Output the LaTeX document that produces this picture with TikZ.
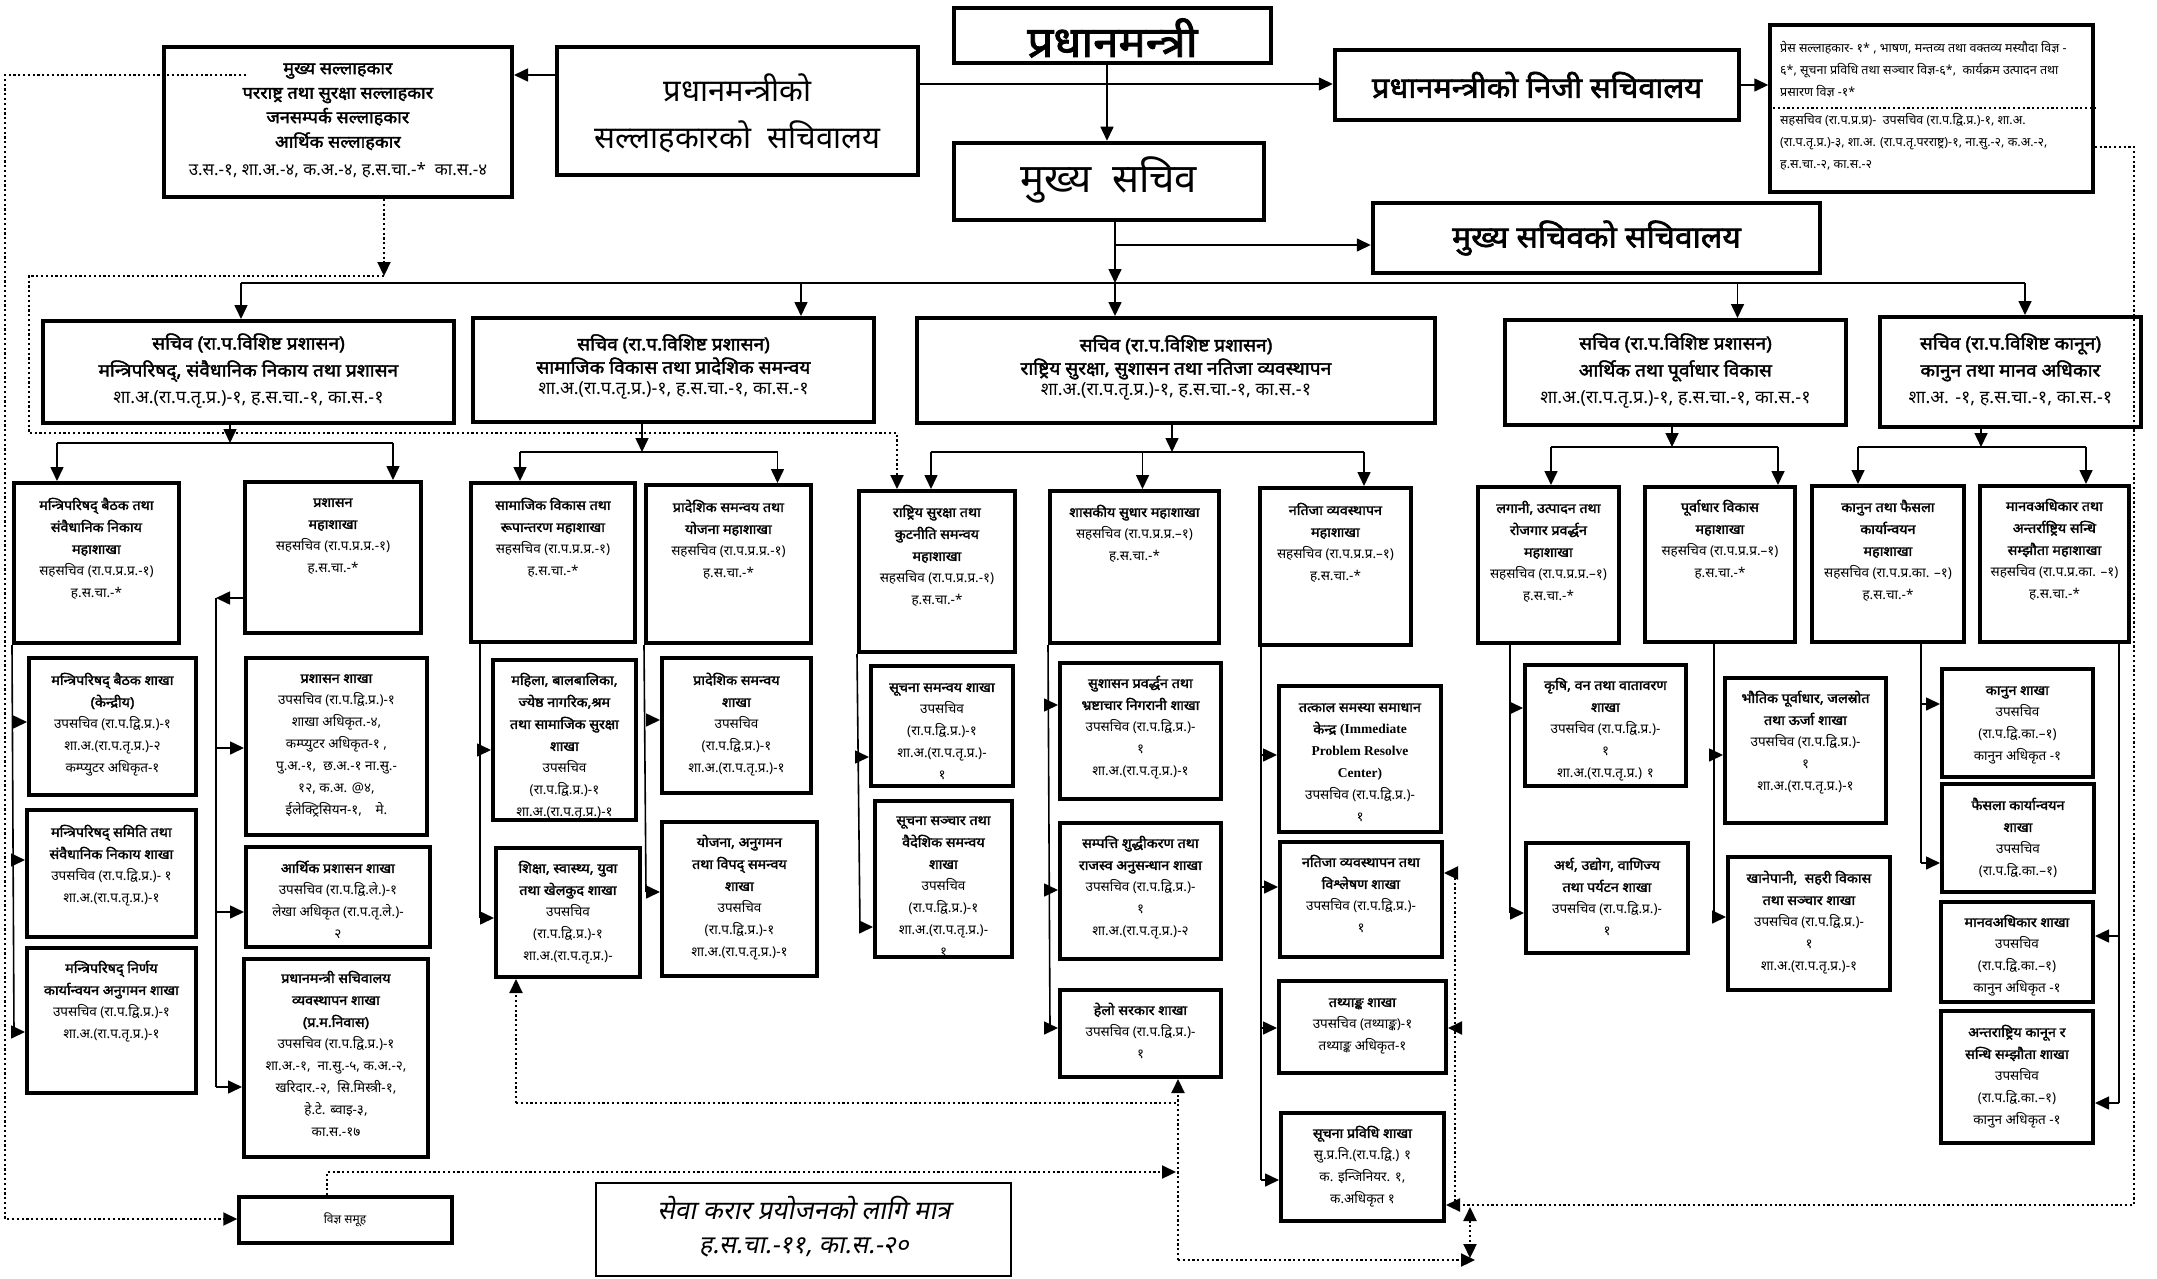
\documentclass[tikz,border=0pt]{standalone}
\usepackage{fontspec}
\setmainfont[Script=Devanagari,BoldFont={Noto Sans},BoldFeatures={FakeBold=2.2,FakeStretch=1.06}]{Noto Sans}
\newfontfamily\lat{Liberation Serif}
\newfontfamily\devsl[Script=Devanagari,FakeSlant=0.2]{Noto Sans}
\usetikzlibrary{arrows.meta,fit}
\newcommand\tb[1]{\textbf{#1}}
\def\toff{11}
\tikzset{
  bx/.style={draw, line width=4pt, inner sep=0pt},
  tx/.style={align=center, inner sep=0pt, font=\fontsize{13.5}{22}\selectfont},
  sectx/.style={align=center, inner sep=0pt, font=\fontsize{18}{27}\selectfont},
  sectxb/.style={align=center, inner sep=0pt, font=\fontsize{18}{20.5}\selectfont},
  advtx/.style={align=center, inner sep=0pt, font=\fontsize{17}{24.5}\selectfont},
  dettx/.style={align=left, inner sep=0pt, font=\fontsize{12.5}{22}\selectfont},
  con/.style={line width=1.6pt},
  arr/.style={con, -{Triangle[length=14pt,width=13pt]}},
  dt/.style={line width=2.2pt, dash pattern=on 2.2pt off 2.6pt},
  dtarr/.style={dt, -{Triangle[length=14pt,width=13pt]}},
}
\newcommand\obox[8][tx]{%
  \begin{scope}
    \clip (#3,#4) rectangle (#5,#6);
    \node[#1, anchor=north] (#2t) at ({(#3+#5)/2},{#7-\toff}) {\strut #8};
  \end{scope}
  \node[bx, fit={(#3,#4)(#5,#6)}] (#2) {};
}
\begin{document}
\begin{tikzpicture}[x=1pt,y=-1pt]
\useasboundingbox (0,0) rectangle (2157,1279);
\fill[white] (0,0) rectangle (2157,1279);

% ---------- top level ----------
\node[bx, line width=4.5pt, fit={(954,8)(1271,63)}] (PM) {};
\node[font=\fontsize{43}{48}\selectfont\bfseries, inner sep=0] (PMt) at (1112.5,38) {प्रधानमन्त्री};

\node[bx, line width=4.5pt, fit={(557,47)(918,175)}] (SA) {};
\node[font=\fontsize{31}{36}\selectfont, inner sep=0] (SAt1) at (737.5,88) {प्रधानमन्त्रीको};
\node[font=\fontsize{31}{36}\selectfont, inner sep=0] (SAt2) at (737.5,137) {सल्लाहकारको\ \ सचिवालय};

\node[bx, line width=4.5pt, fit={(954,143)(1264,220)}] (MS) {};
\node[font=\fontsize{40}{44}\selectfont, inner sep=0] (MSt) at (1109,180) {मुख्य\ \ सचिव};

\node[bx, line width=4.5pt, fit={(1335,50)(1739,120)}] (NS) {};
\node[font=\fontsize{29}{34}\selectfont\bfseries, inner sep=0] (NSt) at (1537,85) {प्रधानमन्त्रीको निजी सचिवालय};

\node[bx, line width=4.5pt, fit={(1373,203)(1820,273)}] (MC) {};
\node[font=\fontsize{30}{34}\selectfont\bfseries, inner sep=0] (MCt) at (1596.5,238) {मुख्य सचिवको सचिवालय};

\def\toff{11.2}
\obox[advtx]{ADV}{164}{47}{512}{197}{68}{\tb{मुख्य सल्लाहकार}\\\tb{परराष्ट्र तथा सुरक्षा सल्लाहकार}\\\tb{जनसम्पर्क सल्लाहकार}\\\tb{आर्थिक सल्लाहकार}\\[3pt]उ.स.-१, शा.अ.-४, क.अ.-४, ह.स.चा.-*\ \ का.स.-४}

\node[bx, line width=3.5pt, fit={(1770,25)(2093,192)}] (DET) {};
\node[dettx, anchor=north west] (DETa) at (1780,37) {\strut प्रेस सल्लाहकार- १* , भाषण, मन्तव्य तथा वक्तव्य मस्यौदा विज्ञ -\\६*, सूचना प्रविधि तथा सञ्चार विज्ञ-६*,\ \ कार्यक्रम उत्पादन तथा\\प्रसारण विज्ञ -१*};
\node[dettx, anchor=north west] (DETb) at (1780,109) {\strut सहसचिव (रा.प.प्र.प्र)-\ \ उपसचिव (रा.प.द्वि.प्र.)-१, शा.अ.\\(रा.प.तृ.प्र.)-३, शा.अ. (रा.प.तृ.परराष्ट्र)-१, ना.सु.-२, क.अ.-२,\\ह.स.चा.-२, का.स.-२};
\draw[dt, line width=1.8pt] (DET.west |- 0,108) -- (DET.east |- 0,108);

% ---------- secretaries ----------
\def\toff{12.6}
\obox[sectx]{S1}{43}{321}{454}{423}{343}{\tb{सचिव (रा.प.विशिष्ट प्रशासन)}\\\tb{मन्त्रिपरिषद्, संवैधानिक निकाय तथा प्रशासन}\\शा.अ.(रा.प.तृ.प्र.)-१, ह.स.चा.-१, का.स.-१}
\obox[sectx]{S4}{1505}{320}{1846}{425}{343}{\tb{सचिव (रा.प.विशिष्ट प्रशासन)}\\\tb{आर्थिक तथा पूर्वाधार विकास}\\शा.अ.(रा.प.तृ.प्र.)-१, ह.स.चा.-१, का.स.-१}
\obox[sectx]{S5}{1880}{317}{2141}{427}{343}{\tb{सचिव (रा.प.विशिष्ट कानून)}\\\tb{कानुन तथा मानव अधिकार}\\शा.अ. -१, ह.स.चा.-१, का.स.-१}
\def\toff{8}
\obox[sectxb]{S2}{473}{318}{874}{422}{342}{\tb{सचिव (रा.प.विशिष्ट प्रशासन)}\\\tb{सामाजिक विकास तथा प्रादेशिक समन्वय}\\शा.अ.(रा.प.तृ.प्र.)-१, ह.स.चा.-१, का.स.-१}
\obox[sectxb]{S3}{917}{318}{1435}{423}{343}{\tb{सचिव (रा.प.विशिष्ट प्रशासन)}\\\tb{राष्ट्रिय सुरक्षा, सुशासन तथा नतिजा व्यवस्थापन}\\शा.अ.(रा.प.तृ.प्र.)-१, ह.स.चा.-१, का.स.-१}

% ---------- divisions and sections ----------
\def\toff{10.7}
\obox{A1}{14}{483}{179}{643}{505}{\tb{मन्त्रिपरिषद् बैठक तथा}\\\tb{संवैधानिक निकाय}\\\tb{महाशाखा}\\सहसचिव (रा.प.प्र.प्र.-१)\\ह.स.चा.-*}
\obox{A2}{245}{482}{421}{633}{502}{\tb{प्रशासन}\\\tb{महाशाखा}\\सहसचिव (रा.प.प्र.प्र.-१)\\ह.स.चा.-*}
\obox{A1a}{29}{658}{196}{795}{680}{\tb{मन्त्रिपरिषद् बैठक शाखा}\\\tb{(केन्द्रीय)}\\उपसचिव (रा.प.द्वि.प्र.)-१\\शा.अ.(रा.प.तृ.प्र.)-२\\कम्प्युटर अधिकृत-१}
\obox{A1b}{27}{810}{196}{937}{832}{\tb{मन्त्रिपरिषद् समिति तथा}\\\tb{संवैधानिक निकाय शाखा}\\उपसचिव (रा.प.द्वि.प्र.)- १\\शा.अ.(रा.प.तृ.प्र.)-१}
\obox{A1c}{27}{948}{196}{1093}{968}{\tb{मन्त्रिपरिषद् निर्णय}\\\tb{कार्यान्वयन अनुगमन शाखा}\\उपसचिव (रा.प.द्वि.प्र.)-१\\शा.अ.(रा.प.तृ.प्र.)-१}
\obox{A2a}{246}{658}{427}{835}{678}{\tb{प्रशासन शाखा}\\उपसचिव (रा.प.द्वि.प्र.)-१\\शाखा अधिकृत.-४,\\कम्प्युटर अधिकृत-१ ,\\पु.अ.-१,\ \ छ.अ.-१ ना.सु.-\\१२, क.अ. @४,\\ईलेक्ट्रिसियन-१,\quad मे.}
\obox{A2b}{246}{847}{430}{947}{868}{\tb{आर्थिक प्रशासन शाखा}\\उपसचिव (रा.प.द्वि.ले.)-१\\लेखा अधिकृत (रा.प.तृ.ले.)-\\२}
\obox{A2c}{244}{959}{428}{1157}{978}{\tb{प्रधानमन्त्री सचिवालय}\\\tb{व्यवस्थापन शाखा}\\\tb{(प्र.म.निवास)}\\उपसचिव (रा.प.द्वि.प्र.)-१\\शा.अ.-१,\ \ ना.सु.-५, क.अ.-२,\\खरिदार.-२,\ \ सि.मिस्त्री-१,\\हे.टे. ब्वाइ-३,\\का.स.-१७}

\obox{B1}{471}{483}{635}{642}{505}{\tb{सामाजिक विकास तथा}\\\tb{रूपान्तरण महाशाखा}\\सहसचिव (रा.प.प्र.प्र.-१)\\ह.स.चा.-*}
\obox{B2}{646}{485}{811}{643}{507}{\tb{प्रादेशिक समन्वय तथा}\\\tb{योजना महाशाखा}\\सहसचिव (रा.प.प्र.प्र.-१)\\ह.स.चा.-*}
\obox{B1a}{493}{660}{636}{820}{680}{\tb{महिला, बालबालिका,}\\\tb{ज्येष्ठ नागरिक,श्रम}\\\tb{तथा सामाजिक सुरक्षा}\\\tb{शाखा}\\उपसचिव\\(रा.प.द्वि.प्र.)-१\\शा.अ.(रा.प.तृ.प्र.)-१}
\obox{B1b}{496}{848}{640}{977}{868}{\tb{शिक्षा, स्वास्थ्य, युवा}\\\tb{तथा खेलकुद शाखा}\\उपसचिव\\(रा.प.द्वि.प्र.)-१\\शा.अ.(रा.प.तृ.प्र.)-}
\obox{B2a}{662}{658}{811}{793}{680}{\tb{प्रादेशिक समन्वय}\\\tb{शाखा}\\उपसचिव\\(रा.प.द्वि.प्र.)-१\\शा.अ.(रा.प.तृ.प्र.)-१}
\obox{B2b}{662}{822}{817}{976}{842}{\tb{योजना, अनुगमन}\\\tb{तथा विपद् समन्वय}\\\tb{शाखा}\\उपसचिव\\(रा.प.द्वि.प्र.)-१\\शा.अ.(रा.प.तृ.प्र.)-१}

\obox{C1}{859}{491}{1015}{652}{512}{\tb{राष्ट्रिय सुरक्षा तथा}\\\tb{कुटनीति समन्वय}\\\tb{महाशाखा}\\सहसचिव (रा.प.प्र.प्र.-१)\\ह.स.चा.-*}
\obox{C2}{1050}{491}{1219}{643}{512}{\tb{शासकीय सुधार महाशाखा}\\सहसचिव (रा.प.प्र.प्र.–१)\\ह.स.चा.-*}
\obox{C3}{1260}{488}{1411}{645}{510}{\tb{नतिजा व्यवस्थापन}\\\tb{महाशाखा}\\सहसचिव (रा.प.प्र.प्र.–१)\\ह.स.चा.-*}
\obox{C1a}{871}{666}{1013}{786}{687}{\tb{सूचना समन्वय शाखा}\\उपसचिव\\(रा.प.द्वि.प्र.)-१\\शा.अ.(रा.प.तृ.प्र.)-\\१}
\obox{C1b}{875}{801}{1012}{957}{820}{\tb{सूचना सञ्चार तथा}\\\tb{वैदेशिक समन्वय}\\\tb{शाखा}\\उपसचिव\\(रा.प.द्वि.प्र.)-१\\शा.अ.(रा.प.तृ.प्र.)-\\१}
\obox{C2a}{1060}{663}{1221}{799}{683}{\tb{सुशासन प्रवर्द्धन तथा}\\\tb{भ्रष्टाचार निगरानी शाखा}\\उपसचिव (रा.प.द्वि.प्र.)-\\१\\शा.अ.(रा.प.तृ.प्र.)-१}
\obox{C2b}{1060}{823}{1221}{959}{843}{\tb{सम्पत्ति शुद्धीकरण तथा}\\\tb{राजस्व अनुसन्धान शाखा}\\उपसचिव (रा.प.द्वि.प्र.)-\\१\\शा.अ.(रा.प.तृ.प्र.)-२}
\obox{C2c}{1060}{990}{1221}{1077}{1010}{\tb{हेलो सरकार शाखा}\\उपसचिव (रा.प.द्वि.प्र.)-\\१}
\obox{C3a}{1279}{686}{1441}{832}{707}{\tb{तत्काल समस्या समाधान}\\\tb{केन्द्र {\lat(Immediate}}\\{\lat\bfseries Problem Resolve}\\{\lat\bfseries Center)}\\उपसचिव (रा.प.द्वि.प्र.)-\\१}
\obox{C3b}{1280}{842}{1442}{957}{862}{\tb{नतिजा व्यवस्थापन तथा}\\\tb{विश्लेषण शाखा}\\उपसचिव (रा.प.द्वि.प्र.)-\\१}
\obox{C3c}{1279}{981}{1446}{1073}{1002}{\tb{तथ्याङ्क शाखा}\\उपसचिव (तथ्याङ्क)-१\\तथ्याङ्क अधिकृत-१}
\obox{C3d}{1281}{1113}{1444}{1221}{1133}{\tb{सूचना प्रविधि शाखा}\\सु.प्र.नि.(रा.प.द्वि.) १\\क. इन्जिनियर. १,\\क.अधिकृत १}

\obox{D1}{1478}{487}{1619}{643}{508}{\tb{लगानी, उत्पादन तथा}\\\tb{रोजगार प्रवर्द्धन}\\\tb{महाशाखा}\\सहसचिव (रा.प.प्र.प्र.–१)\\ह.स.चा.-*}
\obox{D2}{1645}{487}{1795}{642}{507}{\tb{पूर्वाधार विकास}\\\tb{महाशाखा}\\सहसचिव (रा.प.प्र.प्र.–१)\\ह.स.चा.-*}
\obox{D1a}{1525}{665}{1686}{786}{685}{\tb{कृषि, वन तथा वातावरण}\\\tb{शाखा}\\उपसचिव (रा.प.द्वि.प्र.)-\\१\\शा.अ.(रा.प.तृ.प्र.) १}
\obox{D1b}{1526}{843}{1688}{953}{865}{\tb{अर्थ, उद्योग, वाणिज्य}\\\tb{तथा पर्यटन शाखा}\\उपसचिव (रा.प.द्वि.प्र.)-\\१}
\obox{D2a}{1725}{678}{1886}{823}{698}{\tb{भौतिक पूर्वाधार, जलस्रोत}\\\tb{तथा ऊर्जा शाखा}\\उपसचिव (रा.प.द्वि.प्र.)-\\१\\शा.अ.(रा.प.तृ.प्र.)-१}
\obox{D2b}{1728}{857}{1890}{990}{878}{\tb{खानेपानी,\ \ सहरी विकास}\\\tb{तथा सञ्चार शाखा}\\उपसचिव (रा.प.द्वि.प्र.)-\\१\\शा.अ.(रा.प.तृ.प्र.)-१}

\obox{E1}{1812}{486}{1964}{642}{507}{\tb{कानुन तथा फैसला}\\\tb{कार्यान्वयन}\\\tb{महाशाखा}\\सहसचिव (रा.प.प्र.का. –१)\\ह.स.चा.-*}
\obox{E2}{1980}{486}{2129}{642}{506}{\tb{मानवअधिकार तथा}\\\tb{अन्तर्राष्ट्रिय सन्धि}\\\tb{सम्झौता महाशाखा}\\सहसचिव (रा.प.प्र.का. –१)\\ह.स.चा.-*}
\obox{E1a}{1942}{669}{2093}{777}{690}{\tb{कानुन शाखा}\\उपसचिव\\(रा.प.द्वि.का.–१)\\कानुन अधिकृत -१}
\obox{E1b}{1942}{784}{2094}{892}{805}{\tb{फैसला कार्यान्वयन}\\\tb{शाखा}\\उपसचिव\\(रा.प.द्वि.का.–१)}
\obox{E2a}{1941}{902}{2093}{1002}{922}{\tb{मानवअधिकार शाखा}\\उपसचिव\\(रा.प.द्वि.का.–१)\\कानुन अधिकृत -१}
\obox{E2b}{1941}{1011}{2093}{1143}{1032}{\tb{अन्तराष्ट्रिय कानून र}\\\tb{सन्धि सम्झौता शाखा}\\उपसचिव\\(रा.प.द्वि.का.–१)\\कानुन अधिकृत -१}

% ---------- bottom boxes ----------
\node[bx, line width=3.5pt, fit={(239,1197)(452,1243)}] (VS) {};
\node[font=\fontsize{12}{14}\selectfont, inner sep=0] (VSt) at (345,1220) {विज्ञ समूह};
\node[draw, line width=1.2pt, inner sep=0, fit={(596,1183)(1011,1276)}] (BOT) {};
\node[font=\fontsize{26}{30}\selectfont\devsl, inner sep=0] (BOTt1) at (804,1208) {सेवा करार प्रयोजनको लागि मात्र};
\node[font=\fontsize{25}{30}\selectfont\devsl, inner sep=0] (BOTt2) at (804,1247) {ह.स.चा.-११, का.स.-२०};

% ---------- top connectors ----------
\draw[arr] (PM.south -| 1107,0) -- (MS.north -| 1107,0);
\draw[arr] (SA.east |- 0,84) -- (NS.west |- 0,84);
\draw[arr] (SA.west |- 0,75) -- (ADV.east |- 0,75);
\draw[arr] (NS.east) -- (NS.east -| DET.west);
\coordinate (b1) at (241,283);
\coordinate (b2) at (801,283);
\coordinate (b3) at (1115,283);
\coordinate (b4) at (1737.5,283);
\coordinate (b5) at (2025,283);
\coordinate (msb) at (1115,245);
\draw[arr] (MS.south -| b3) -- (b3);
\draw[arr] (msb) -- (MC.west |- msb);
\draw[con] (b1) -- (b5);
\draw[arr] (b1) -- (S1.north -| b1);
\draw[arr] (b2) -- (S2.north -| b2);
\draw[arr] (b3) -- (S3.north -| b3);
\draw[arr] (b4) -- (S4.north -| b4);
\draw[arr] (b5) -- (S5.north -| b5);

% ---------- group 1 ----------
\draw[arr] (S1.south -| 230,0) -- (230,443);
\draw[con] (57,443) -- (393,443);
\draw[arr] (57,443) -- (A1.north -| 57,0);
\draw[arr] (393,443) -- (A2.north -| 393,0);
\draw[con] (A1.south west) -- (14,1032);
\draw[arr] (14,722) -- (A1a.west |- 0,722);
\draw[arr] (14,860) -- (A1b.west |- 0,860);
\draw[arr] (14,1032) -- (A1c.west |- 0,1032);
\draw[arr] (A2.west |- 0,598) -- (216,598);
\draw[con] (216,598) -- (216,1087);
\draw[arr] (216,748) -- (A2a.west |- 0,748);
\draw[arr] (216,912) -- (A2b.west |- 0,912);
\draw[arr] (216,1087) -- (A2c.west |- 0,1087);

% ---------- group 2 ----------
\draw[arr] (S2.south -| 642,0) -- (642,452);
\draw[con] (520,452) -- (777.5,452);
\draw[arr] (520,452) -- (B1.north -| 520,0);
\draw[arr] (777.5,452) -- (B2.north -| 777.5,0);
\draw[con] (B1.south -| 480,0) -- (480,918);
\draw[arr] (480,750) -- (B1a.west |- 0,750);
\draw[arr] (480,918) -- (B1b.west |- 0,918);
\draw[con] (B2.south west) -- (646,892);
\draw[arr] (646,720) -- (B2a.west |- 0,720);
\draw[arr] (646,892) -- (B2b.west |- 0,892);

% ---------- group 3 ----------
\draw[arr] (S3.south -| 1172,0) -- (1172,452);
\draw[con] (931,452) -- (1364,452);
\draw[arr] (931,452) -- (C1.north -| 931,0);
\draw[arr] (1142.5,452) -- (C2.north -| 1142.5,0);
\draw[arr] (1364,452) -- (C3.north -| 1364,0);
\draw[con] (C1.south west) -- (860,927);
\draw[arr] (860,757) -- (C1a.west |- 0,757);
\draw[arr] (860,927) -- (C1b.west |- 0,927);
\draw[con] (C2.south west) -- (1050,1028);
\draw[arr] (1050,705) -- (C2a.west |- 0,705);
\draw[arr] (1050,890) -- (C2b.west |- 0,890);
\draw[arr] (1050,1028) -- (C2c.west |- 0,1028);
\draw[con] (C3.south -| 1261,0) -- (1261,1180);
\draw[arr] (1261,755) -- (C3a.west |- 0,755);
\draw[arr] (1261,887) -- (C3b.west |- 0,887);
\draw[arr] (1261,1028) -- (C3c.west |- 0,1028);
\draw[arr] (1261,1180) -- (C3d.west |- 0,1180);

% ---------- group 4 ----------
\draw[arr] (S4.south -| 1672,0) -- (1672,447);
\draw[con] (1551,447) -- (1778,447);
\draw[arr] (1551,447) -- (D1.north -| 1551,0);
\draw[arr] (1778,447) -- (D2.north -| 1778,0);
\draw[con] (D1.south -| 1510,0) -- (1510,913);
\draw[arr] (1510,708) -- (D1a.west |- 0,708);
\draw[arr] (1510,913) -- (D1b.west |- 0,913);
\draw[con] (D2.south -| 1714,0) -- (1714,917);
\draw[arr] (1714,755) -- (D2a.west |- 0,755);
\draw[arr] (1714,917) -- (D2b.west |- 0,917);

% ---------- group 5 ----------
\draw[arr] (S5.south -| 1981,0) -- (1981,447);
\draw[con] (1858,447) -- (2086,447);
\draw[arr] (1858,447) -- (E1.north -| 1858,0);
\draw[arr] (2086,447) -- (E2.north -| 2086,0);
\draw[con] (E1.south -| 1921,0) -- (1921,863);
\draw[arr] (1921,704) -- (E1a.west |- 0,704);
\draw[arr] (1921,863) -- (E1b.west |- 0,863);
\draw[con] (E2.south -| 2119,0) -- (2119,1103);
\draw[arr] (2119,936) -- (E2a.east |- 0,936);
\draw[arr] (2119,1103) -- (E2b.east |- 0,1103);

% ---------- dotted links ----------
\draw[dtarr] (246,75) -- (5,75) -- (5,1219) -- (VS.west |- 0,1219);
\draw[dtarr] (ADV.south -| 384,0) -- (384,276);
\draw[dtarr] (384,276) -- (28.6,276) -- (28.6,433) -- (897,433) -- (C1.north -| 897,0);
\draw[dt] (DET.east |- 0,147) -- (2134,147) -- (2134,1205) -- (1455,1205);
\draw[dtarr] (1455,1205) -- (C3d.east |- 0,1205);
\draw[dt] (1455,873) -- (1455,1205);
\draw[dtarr] (1455,873) -- (C3b.east |- 0,873);
\draw[dtarr] (1455,1028) -- (C3c.east |- 0,1028);
\draw[dtarr] (516,1103) -- (B1b.south -| 516,0);
\draw[dt] (516,1103) -- (1178,1103);
\draw[dtarr] (VS.north -| 327,0) -- (327,1172) -- (1176,1172);
\draw[dtarr] (1178,1260) -- (C2c.south -| 1178,0);
\draw[dtarr] (1178,1260) -- (1475,1260);
\draw[dt, {Triangle[length=14pt,width=13pt]}-{Triangle[length=14pt,width=13pt]}] (1470,1207) -- (1470,1258);
\end{tikzpicture}
\end{document}
